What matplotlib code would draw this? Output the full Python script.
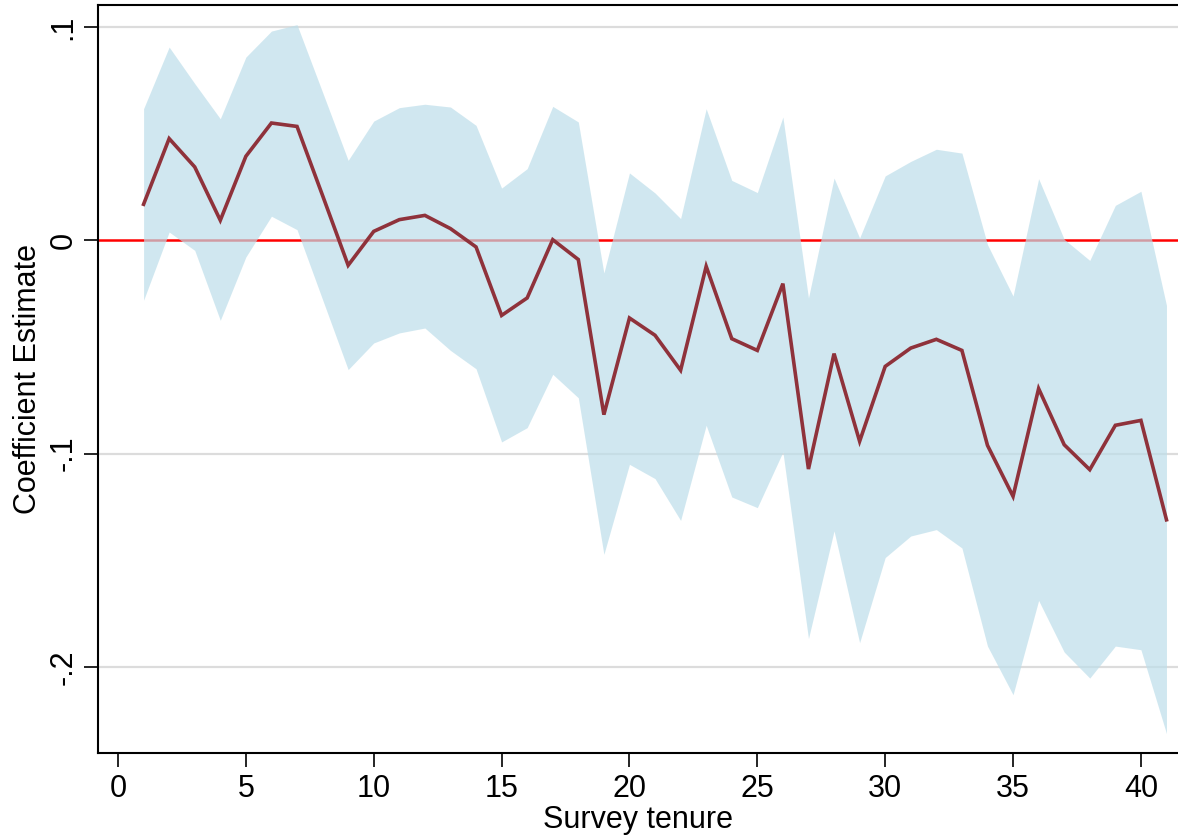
import numpy as np
import matplotlib.pyplot as plt

plt.rcParams['font.family'] = ['Liberation Sans', 'DejaVu Sans']

# Estimates by survey tenure, with 95% CI bounds
tenure = list(range(1, 42))
coef = [0.0169, 0.0477, 0.0344, 0.0094, 0.0394, 0.0550, 0.0534, 0.0210, -0.0117, 0.0042,
        0.0097, 0.0117, 0.0055, -0.0031, -0.0352, -0.0270, 0.0003, -0.0090, -0.0817, -0.0364,
        -0.0445, -0.0609, -0.0122, -0.0461, -0.0516, -0.0203, -0.1072, -0.0531, -0.0942, -0.0591,
        -0.0505, -0.0464, -0.0516, -0.0961, -0.1200, -0.0695, -0.0958, -0.1075, -0.0867, -0.0844,
        -0.1310]
ci_upper = [0.0617, 0.0906, 0.0735, 0.0570, 0.0859, 0.0981, 0.1011, 0.0694, 0.0375, 0.0559,
            0.0622, 0.0638, 0.0625, 0.0539, 0.0245, 0.0336, 0.0628, 0.0555, -0.0153, 0.0316,
            0.0222, 0.0102, 0.0617, 0.0281, 0.0224, 0.0578, -0.0270, 0.0292, 0.0011, 0.0302,
            0.0370, 0.0427, 0.0409, -0.0020, -0.0261, 0.0289, 0.0005, -0.0094, 0.0164, 0.0230,
            -0.0305]
ci_lower = [-0.0281, 0.0039, -0.0047, -0.0375, -0.0078, 0.0113, 0.0050, -0.0278, -0.0606, -0.0481,
            -0.0434, -0.0411, -0.0516, -0.0602, -0.0945, -0.0878, -0.0628, -0.0738, -0.1472, -0.1050,
            -0.1117, -0.1313, -0.0867, -0.1203, -0.1253, -0.0992, -0.1867, -0.1362, -0.1886, -0.1487,
            -0.1386, -0.1356, -0.1442, -0.1902, -0.2130, -0.1688, -0.1930, -0.2052, -0.1902, -0.1919,
            -0.2312]

x_ticks = [0, 5, 10, 15, 20, 25, 30, 35, 40]
y_ticks = [0.1, 0, -0.1, -0.2]
y_ticklabels = ['.1', '0', '-.1', '-.2']

fig = plt.figure(figsize=(11.78, 8.4), dpi=100)
ax = fig.add_axes([0.0832, 0.1036, 0.9168, 0.8904])

# horizontal grid + zero reference line
for yv in [0.1, -0.1, -0.2]:
    ax.axhline(yv, color='#dcdcdc', lw=1.6, zorder=0)
ax.axhline(0, color='#ff0000', lw=1.8, zorder=1)

ax.fill_between(tenure, ci_lower, ci_upper, color=(189/255, 222/255, 234/255), alpha=0.7,
                lw=0, zorder=2)
ax.plot(tenure, coef, color='#8f323b', lw=2.6, zorder=3, solid_joinstyle='miter')

ax.set_xlim(-0.782, 41.45)
ax.set_ylim(-0.2403, 0.1103)

ax.set_xticks(x_ticks)
ax.set_yticks(y_ticks)
ax.set_yticklabels(y_ticklabels, rotation=90, va='center')
ax.tick_params(axis='both', direction='out', length=10, width=1.2, labelsize=22, pad=4)
ax.tick_params(axis='x', pad=5)

ax.spines['right'].set_visible(False)
for s in ['left', 'bottom', 'top']:
    ax.spines[s].set_linewidth(1.5)

ax.set_xlabel('Survey tenure', fontsize=22, labelpad=1)
ax.set_ylabel('Coefficient Estimate', fontsize=22, labelpad=4)

fig.savefig('out.png', dpi=100)
